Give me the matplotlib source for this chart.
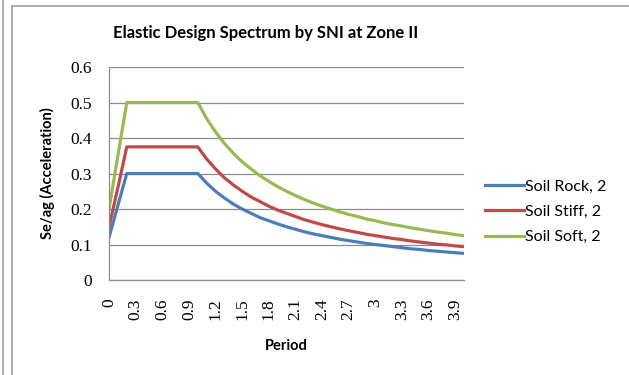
import matplotlib
matplotlib.use("Agg")
import matplotlib.pyplot as plt
from matplotlib.lines import Line2D

# period values (s), one category per row
periods = [0.0, 0.1, 0.2, 0.3, 0.4, 0.5, 0.6, 0.7, 0.8, 0.9, 1.0,
           1.1, 1.2, 1.3, 1.4, 1.5, 1.6, 1.7, 1.8, 1.9, 2.0,
           2.1, 2.2, 2.3, 2.4, 2.5, 2.6, 2.7, 2.8, 2.9, 3.0,
           3.1, 3.2, 3.3, 3.4, 3.5, 3.6, 3.7, 3.8, 3.9, 4.0]

soil_rock = [0.12, 0.21, 0.30, 0.30, 0.30, 0.30, 0.30, 0.30, 0.30, 0.30, 0.30,
             0.273, 0.25, 0.231, 0.214, 0.20, 0.188, 0.176, 0.167, 0.158, 0.15,
             0.143, 0.136, 0.13, 0.125, 0.12, 0.115, 0.111, 0.107, 0.103, 0.10,
             0.097, 0.094, 0.091, 0.088, 0.086, 0.083, 0.081, 0.079, 0.077, 0.075]

soil_stiff = [0.15, 0.26, 0.375, 0.375, 0.375, 0.375, 0.375, 0.375, 0.375, 0.375, 0.375,
              0.341, 0.313, 0.288, 0.268, 0.25, 0.234, 0.221, 0.208, 0.197, 0.188,
              0.179, 0.17, 0.163, 0.156, 0.15, 0.144, 0.139, 0.134, 0.129, 0.125,
              0.121, 0.117, 0.114, 0.11, 0.107, 0.104, 0.101, 0.099, 0.096, 0.094]

soil_soft = [0.20, 0.35, 0.50, 0.50, 0.50, 0.50, 0.50, 0.50, 0.50, 0.50, 0.50,
             0.455, 0.417, 0.385, 0.357, 0.333, 0.313, 0.294, 0.278, 0.263, 0.25,
             0.238, 0.227, 0.217, 0.208, 0.20, 0.192, 0.185, 0.179, 0.172, 0.167,
             0.161, 0.156, 0.152, 0.147, 0.143, 0.139, 0.135, 0.132, 0.128, 0.125]

series_names = ["Soil Rock, 2", "Soil Stiff, 2", "Soil Soft, 2"]
colors = ["#4A7EBB", "#BE4B48", "#98B954"]

sans = ["Lato", "DejaVu Sans"]
serif = ["Liberation Serif", "DejaVu Serif"]

fig = plt.figure(figsize=(6.29, 3.75), dpi=100)
ax = fig.add_axes([0.1733, 0.2533, 0.5644, 0.568])

# excel category axis: one slot per row
xpos = list(range(len(periods)))
for vals, name, c in zip([soil_rock, soil_stiff, soil_soft], series_names, colors):
    ax.plot(xpos, vals, color=c, lw=2.3, label=name, solid_joinstyle="round")

ax.set_xlim(0, len(periods) - 1)
ax.set_ylim(0, 0.6)
ax.set_yticks([0, 0.1, 0.2, 0.3, 0.4, 0.5, 0.6])
ax.set_yticklabels(["0", "0.1", "0.2", "0.3", "0.4", "0.5", "0.6"],
                   family=serif, fontsize=12.5)
ax.yaxis.grid(True, color="#8c8c8c", lw=0.9)
ax.set_axisbelow(True)

ticks = xpos[:-1:3]
ax.set_xticks(ticks)
ax.set_xticklabels(["%g" % periods[i] for i in ticks], rotation=90,
                   family=serif, fontsize=12.5, va="top", ha="center")
ax.tick_params(length=0)
ax.tick_params(axis="x", pad=13)
ax.tick_params(axis="y", pad=12)

for s in ["top", "right"]:
    ax.spines[s].set_visible(False)
for s in ["left", "bottom"]:
    ax.spines[s].set_color("#8c8c8c")
    ax.spines[s].set_linewidth(0.9)

ax.set_xlabel("Period", family=sans, fontsize=10.5, fontweight="bold", labelpad=14)
ax.set_ylabel("Se/ag (Acceleration)", family=sans, fontsize=10.5, fontweight="bold",
              labelpad=11)

fig.text(0.422, 0.913, "Elastic Design Spectrum by SNI at Zone II", family=sans,
         fontsize=12, fontweight="bold", ha="center", va="center")

leg = ax.legend(loc="center left", bbox_to_anchor=(1.02, 0.32), frameon=False,
                prop={"family": sans, "size": 11.5}, handlelength=2.4,
                handletextpad=0.1, labelspacing=0.7)

# chart frame remnants
fig.add_artist(Line2D([3 / 629, 3 / 629], [0, 1], color="#a0a0a0", lw=1.2))
fig.add_artist(Line2D([12 / 629, 12 / 629], [0, 1 - 6 / 375], color="#a0a0a0", lw=1.2))
fig.add_artist(Line2D([12 / 629, 1], [1 - 6 / 375, 1 - 6 / 375], color="#a0a0a0", lw=1.2))

fig.savefig("out.png", dpi=100)
